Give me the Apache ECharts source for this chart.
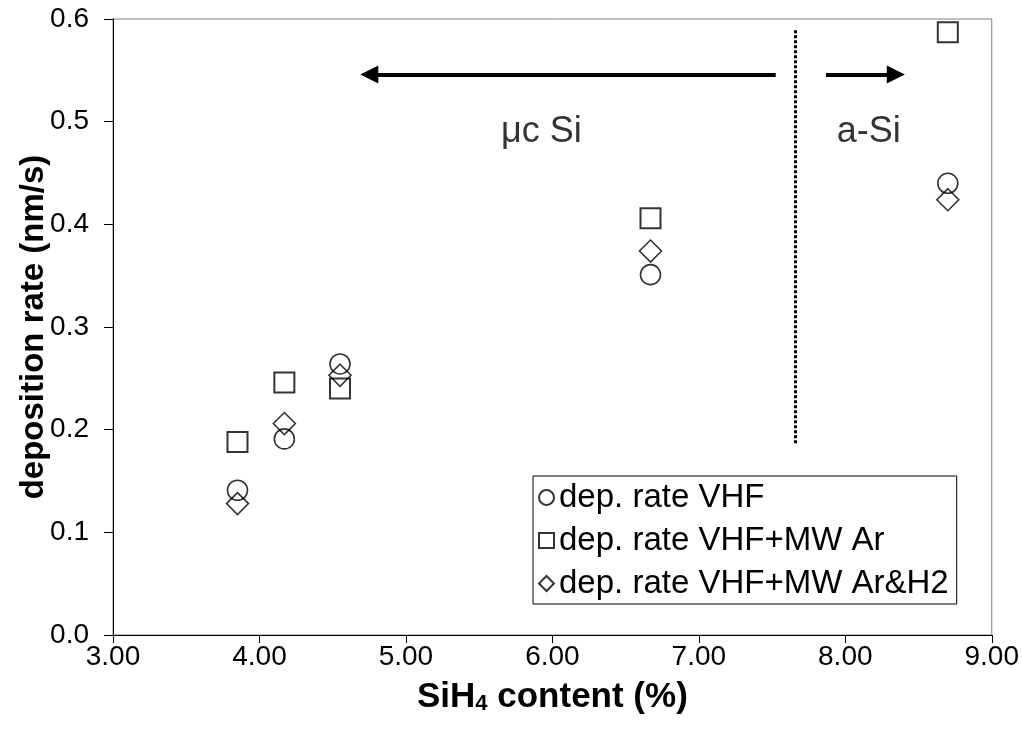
<!DOCTYPE html>
<html>
<head>
<meta charset="utf-8">
<script src="https://cdn.jsdelivr.net/npm/echarts@6/dist/echarts.min.js"></script>
<style>
    html, body { margin: 0; padding: 0; background: #fff; }
    #chart { width: 1022px; height: 732px; }
</style>
</head>
<body>
<div id="chart"></div>
<script>
// SiH4 content (%) of the samples
var sih4 = [3.85, 4.17, 4.55, 6.67, 8.70];
// deposition rate (nm/s)
var rateVhf = [0.141, 0.191, 0.264, 0.351, 0.440];
var rateVhfAr = [0.188, 0.246, 0.240, 0.406, 0.587];
var rateVhfArH2 = [0.128, 0.206, 0.253, 0.374, 0.424];
var seriesNames = ['dep. rate VHF', 'dep. rate VHF+MW Ar', 'dep. rate VHF+MW Ar&H2'];
var xTicks = [3, 4, 5, 6, 7, 8, 9];
var yTicks = [0, 0.1, 0.2, 0.3, 0.4, 0.5, 0.6];
// annotations: phase boundary and arrows
var boundary = [[7.66, 0.589], [7.66, 0.185]];
var arrowLeft = [[7.525, 0.546], [4.75, 0.546]];
var arrowRight = [[7.868, 0.546], [8.345, 0.546]];
var phaseNames = ['μc Si', 'a-Si'];
var phasePos = [[5.925, 0.490], [8.16, 0.490]];

var font = "'Liberation Sans', Arial, sans-serif";

function pairs(xs, ys) {
    var out = [];
    for (var i = 0; i < xs.length; i++) {
        out.push([xs[i], ys[i]]);
    }
    return out;
}

var myChart = echarts.init(document.getElementById('chart'));

var markerStyle = {
    color: 'rgba(0,0,0,0)',
    borderColor: '#000',
    borderWidth: 1.6
};

var option = {
    animation: false,
    textStyle: { fontFamily: font, color: '#000' },
    grid: {
        left: 113,
        right: 29,
        top: 19,
        bottom: 97,
        show: true,
        borderColor: '#808080',
        borderWidth: 1
    },
    legend: {
        data: seriesNames,
        orient: 'vertical',
        left: 533,
        top: 476,
        padding: [5, 8, 4, 5],
        itemGap: 10,
        itemWidth: 15,
        itemHeight: 15,
        borderColor: '#000',
        borderWidth: 1,
        backgroundColor: '#fff',
        textStyle: { fontFamily: font, fontSize: 33, color: '#000' }
    },
    xAxis: {
        type: 'value',
        min: xTicks[0],
        max: xTicks[xTicks.length - 1],
        interval: 1,
        name: '{b|SiH}{s|4}{b| content (%)}',
        nameLocation: 'middle',
        nameMoveOverlap: false,
        nameGap: 45,
        nameTextStyle: {
            rich: {
                b: { fontFamily: font, fontSize: 35, fontWeight: 'bold', color: '#000', lineHeight: 35, verticalAlign: 'top' },
                s: { fontFamily: font, fontSize: 22, fontWeight: 'bold', color: '#000', lineHeight: 22, padding: [21, 0, 0, 0], verticalAlign: 'bottom' }
            }
        },
        axisLine: { lineStyle: { color: '#000', width: 1 } },
        axisTick: { inside: false, length: 8, lineStyle: { color: '#000' } },
        axisLabel: {
            fontFamily: font,
            fontSize: 28,
            color: '#000',
            margin: 8,
            formatter: function(v) { return v.toFixed(2); }
        },
        splitLine: { show: false }
    },
    yAxis: {
        type: 'value',
        min: yTicks[0],
        max: yTicks[yTicks.length - 1],
        interval: 0.1,
        name: 'deposition rate (nm/s)',
        nameLocation: 'middle',
        nameMoveOverlap: false,
        nameGap: 63,
        nameTextStyle: { fontFamily: font, fontSize: 33, fontWeight: 'bold', color: '#000' },
        axisLine: { show: true, lineStyle: { color: '#000', width: 1 } },
        axisTick: { show: true, inside: false, length: 9, lineStyle: { color: '#000' } },
        axisLabel: {
            fontFamily: font,
            fontSize: 28,
            color: '#000',
            margin: 24,
            formatter: function(v) { return v.toFixed(1); }
        },
        splitLine: { show: false }
    },
    series: [{
        name: seriesNames[0],
        type: 'scatter',
        symbol: 'circle',
        symbolSize: 20,
        itemStyle: markerStyle,
        data: pairs(sih4, rateVhf)
    }, {
        name: seriesNames[1],
        type: 'scatter',
        symbol: 'rect',
        symbolSize: 20,
        itemStyle: { color: 'rgba(0,0,0,0)', borderColor: '#000', borderWidth: 2 },
        data: pairs(sih4, rateVhfAr)
    }, {
        name: seriesNames[2],
        type: 'scatter',
        symbol: 'diamond',
        symbolSize: 22,
        itemStyle: markerStyle,
        data: pairs(sih4, rateVhfArH2)
    }, {
        type: 'scatter',
        silent: true,
        symbolSize: 0,
        label: {
            show: true,
            position: 'inside',
            formatter: '{b}',
            fontFamily: font,
            fontSize: 36,
            color: '#000'
        },
        data: [
            { name: phaseNames[0], value: phasePos[0] },
            { name: phaseNames[1], value: phasePos[1] }
        ],
        markLine: {
            silent: true,
            label: { show: false },
            symbol: ['none', 'triangle'],
            symbolSize: [18, 18],
            lineStyle: { color: '#000', width: 4, type: 'solid' },
            data: [
                [{ coord: arrowLeft[0] }, { coord: arrowLeft[1] }],
                [{ coord: arrowRight[0] }, { coord: arrowRight[1] }],
                [
                    { coord: boundary[0], symbol: 'none', lineStyle: { type: [3, 2], width: 3, color: '#000' } },
                    { coord: boundary[1], symbol: 'none' }
                ]
            ]
        }
    }]
};

myChart.setOption(option);
window.onresize = function() {
    myChart.resize();
};
</script>
</body>
</html>
